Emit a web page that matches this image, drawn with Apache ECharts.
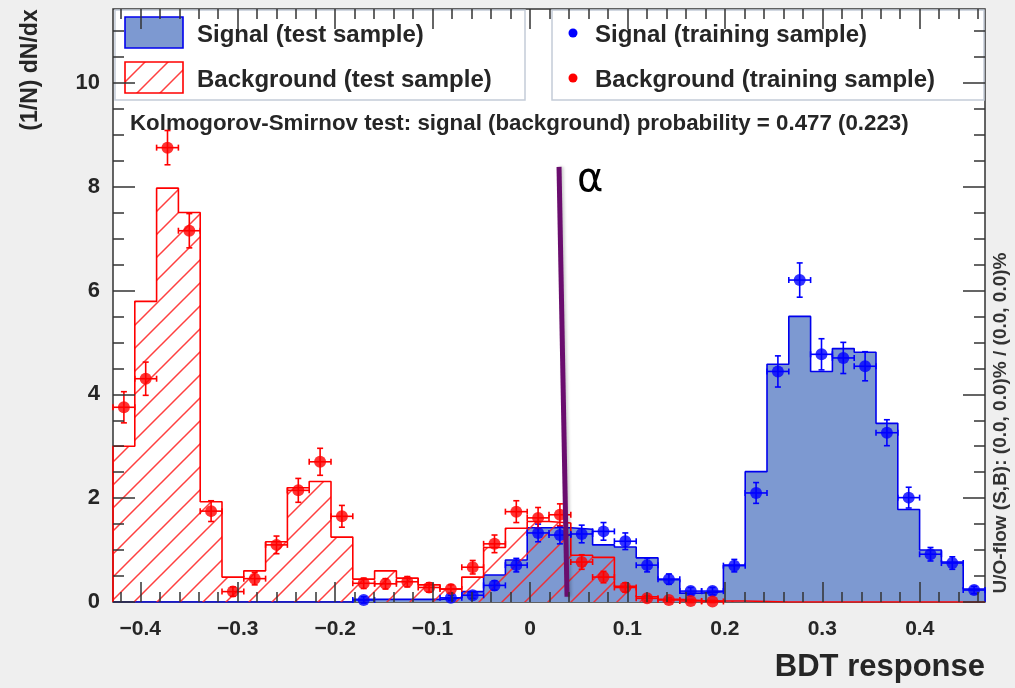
<!DOCTYPE html>
<html>
<head>
<meta charset="utf-8">
<script src="https://cdn.jsdelivr.net/npm/echarts@6/dist/echarts.min.js"></script>
<style>
  html, body { margin: 0; padding: 0; background: #efefef; }
  #chart { width: 1015px; height: 688px; }
</style>
</head>
<body>
<div id="chart"></div>
<script>
// BDT response distributions, 40 equal bins between binLow and binHigh
const binLow = -0.428;
const binHigh = 0.467;
const nBins = 40;

// Signal (test sample), normalised bin contents
const sigTest = [0, 0, 0, 0, 0, 0, 0, 0, 0, 0,
  0, 0.05, 0.05, 0.05, 0.05, 0.08, 0.2, 0.52, 0.81, 1.43,
  1.43, 1.4, 1.1, 1.06, 0.85, 0.43, 0.17, 0.2, 0.71, 2.51,
  4.58, 5.5, 4.44, 4.88, 4.81, 3.44, 1.78, 1.0, 0.77, 0.25];

// Background (test sample)
const bkgTest = [3.0, 5.79, 7.97, 7.5, 1.93, 0.48, 0.6, 1.16, 2.2, 2.32,
  1.25, 0.44, 0.6, 0.46, 0.33, 0.25, 0.48, 1.05, 1.42, 1.55,
  1.52, 0.9, 0.86, 0.3, 0.1, 0.05, 0.03, 0.02, 0.02, 0.01,
  0, 0, 0, 0, 0, 0, 0, 0, 0, 0];

// Signal (training sample) points and their errors
const sigTrain = [null, null, null, null, null, null, null, null, null, null,
  null, 0.04, null, null, null, 0.08, 0.13, 0.32, 0.71, 1.33,
  1.29, 1.31, 1.36, 1.17, 0.71, 0.44, 0.21, 0.21, 0.7, 2.1,
  4.44, 6.2, 4.77, 4.7, 4.54, 3.26, 2.01, 0.92, 0.75, 0.23];
const sigTrainErr = [0, 0, 0, 0, 0, 0, 0, 0, 0, 0,
  0, 0.06, 0, 0, 0, 0.05, 0.06, 0.09, 0.13, 0.17,
  0.17, 0.17, 0.17, 0.16, 0.13, 0.1, 0.07, 0.07, 0.12, 0.2,
  0.3, 0.33, 0.3, 0.3, 0.28, 0.25, 0.2, 0.13, 0.12, 0.07];

// Background (training sample) points and their errors
const bkgTrain = [3.75, 4.3, 8.75, 7.15, 1.75, 0.2, 0.45, 1.1, 2.15, 2.7,
  1.65, 0.36, 0.35, 0.39, 0.28, 0.25, 0.67, 1.12, 1.74, 1.62,
  1.68, 0.77, 0.48, 0.28, 0.07, 0.04, 0.02, 0.01, null, null,
  null, null, null, null, null, null, null, null, null, null];
const bkgTrainErr = [0.3, 0.32, 0.33, 0.33, 0.2, 0.09, 0.12, 0.17, 0.23, 0.26,
  0.21, 0.1, 0.1, 0.1, 0.09, 0.08, 0.13, 0.17, 0.21, 0.2,
  0.21, 0.14, 0.11, 0.09, 0.05, 0.04, 0.03, 0.02, 0, 0,
  0, 0, 0, 0, 0, 0, 0, 0, 0, 0];

// Axis ticks and labels
const xTickValues = [-0.4, -0.3, -0.2, -0.1, 0, 0.1, 0.2, 0.3, 0.4];
const yTickValues = [0, 2, 4, 6, 8, 10];
const yMax = 11.42;

// Cut marker (slightly tilted line) and its label
const cutLine = [[0.0298, 8.38], [0.038, 0.1]];
const cutLabel = 'α';

const legendTexts = ['Signal (test sample)', 'Background (test sample)',
  'Signal (training sample)', 'Background (training sample)'];
const ksText = 'Kolmogorov-Smirnov test: signal (background) probability = 0.477 (0.223)';
const xTitle = 'BDT response';
const yTitle = '(1/N) dN/dx';
const flowText = 'U/O-flow (S,B): (0.0, 0.0)% / (0.0, 0.0)%';

const binWidth = (binHigh - binLow) / nBins;
const FONT = '"Liberation Sans", Arial, Helvetica, sans-serif';
const TXT = '#262626';

const xMinor = [];
for (let v = -42; v <= 46; v += 2) xMinor.push(v / 100);
const yMinor = [];
for (let v = 0; v <= 11; v += 0.5) yMinor.push(v);

function hatchCanvas() {
  const s = 23;
  const c = document.createElement('canvas');
  c.width = s; c.height = s;
  const g = c.getContext('2d');
  g.strokeStyle = 'rgba(255,30,30,0.85)';
  g.lineWidth = 1.5;
  g.beginPath();
  g.moveTo(-3, s + 3); g.lineTo(s + 3, -3);
  g.moveTo(-3, 3); g.lineTo(3, -3);
  g.moveTo(s - 3, s + 3); g.lineTo(s + 3, s - 3);
  g.stroke();
  return c;
}
const hatch = { image: hatchCanvas(), repeat: 'repeat' };

// outline of a histogram as stepped points at bin edges
function stepData(vals) {
  const pts = [[binLow, 0]];
  vals.forEach((v, i) => pts.push([binLow + i * binWidth, v]));
  pts.push([binHigh, vals[vals.length - 1]]);
  pts.push([binHigh, 0]);
  return pts;
}
function pointData(vals, errs) {
  const out = [];
  vals.forEach((v, i) => {
    if (v !== null) out.push([binLow + (i + 0.5) * binWidth, v, errs[i]]);
  });
  return out;
}

function errorSeries(data, color) {
  return {
    type: 'custom',
    z: 6,
    clip: false,
    silent: true,
    data: data,
    renderItem: function (params, api) {
      const x = api.value(0), y = api.value(1), e = api.value(2);
      const c = api.coord([x, y]);
      const lo = api.coord([x, y - e]);
      const hi = api.coord([x, y + e]);
      const half = api.size([binWidth, 0])[0] / 2;
      const st = { stroke: color, lineWidth: 1.6 };
      const cap = 3;
      return {
        type: 'group',
        children: [
          { type: 'line', shape: { x1: c[0], y1: lo[1], x2: c[0], y2: hi[1] }, style: st },
          { type: 'line', shape: { x1: c[0] - half, y1: c[1], x2: c[0] + half, y2: c[1] }, style: st },
          { type: 'line', shape: { x1: c[0] - cap, y1: lo[1], x2: c[0] + cap, y2: lo[1] }, style: st },
          { type: 'line', shape: { x1: c[0] - cap, y1: hi[1], x2: c[0] + cap, y2: hi[1] }, style: st },
          { type: 'line', shape: { x1: c[0] - half, y1: c[1] - cap, x2: c[0] - half, y2: c[1] + cap }, style: st },
          { type: 'line', shape: { x1: c[0] + half, y1: c[1] - cap, x2: c[0] + half, y2: c[1] + cap }, style: st }
        ]
      };
    }
  };
}

function xAxisDef(pos, ticks, len, labels) {
  return {
    type: 'value', position: pos, min: binLow, max: binHigh, z: 10,
    axisLine: { show: false, onZero: false },
    splitLine: { show: false },
    axisTick: { show: true, inside: true, length: len, customValues: ticks,
      lineStyle: { color: '#333', width: 1.5 } },
    axisLabel: labels ? {
      show: true, customValues: ticks, margin: 17,
      fontFamily: FONT, fontWeight: 'bold', fontSize: 21, color: TXT,
      formatter: v => (v < 0 ? '\u2212' + String(Math.abs(v)) : String(v))
    } : { show: false }
  };
}
function yAxisDef(pos, ticks, len, labels) {
  return {
    type: 'value', position: pos, min: 0, max: yMax, z: 10,
    axisLine: { show: false, onZero: false },
    splitLine: { show: false },
    axisTick: { show: true, inside: true, length: len, customValues: ticks,
      lineStyle: { color: '#333', width: 1.5 } },
    axisLabel: labels ? {
      show: true, customValues: ticks, margin: 13,
      fontFamily: FONT, fontWeight: 'bold', fontSize: 22, color: TXT
    } : { show: false }
  };
}

const chart = echarts.init(document.getElementById('chart'), null, { renderer: 'canvas' });

const legendZ = 5;
chart.setOption({
  animation: false,
  backgroundColor: '#efefef',
  grid: {
    left: 113, right: 30, top: 9, bottom: 86,
    show: true, backgroundColor: '#ffffff', borderColor: '#333', borderWidth: 1.5
  },
  xAxis: [
    xAxisDef('bottom', xTickValues, 20, true),
    xAxisDef('bottom', xMinor, 10, false),
    xAxisDef('top', xTickValues, 20, false),
    xAxisDef('top', xMinor, 10, false)
  ],
  yAxis: [
    yAxisDef('left', yTickValues, 22, true),
    yAxisDef('left', yMinor, 11, false),
    yAxisDef('right', yTickValues, 22, false),
    yAxisDef('right', yMinor, 11, false)
  ],
  series: [
    {
      name: legendTexts[0], type: 'line', step: 'end', z: 2,
      data: stepData(sigTest), symbol: 'none',
      lineStyle: { color: '#0000ee', width: 1.6 },
      areaStyle: { color: '#7d99d1', opacity: 1 }
    },
    {
      name: legendTexts[1], type: 'line', step: 'end', z: 3,
      data: stepData(bkgTest), symbol: 'none',
      lineStyle: { color: '#ff0000', width: 1.6 },
      areaStyle: { color: hatch, opacity: 1 }
    },
    errorSeries(pointData(sigTrain, sigTrainErr), '#0000ff'),
    errorSeries(pointData(bkgTrain, bkgTrainErr), '#ff0000'),
    {
      name: legendTexts[2], type: 'scatter', z: 7, symbolSize: 12,
      data: pointData(sigTrain, sigTrainErr).map(p => [p[0], p[1]]),
      itemStyle: { color: '#0000ff' }
    },
    {
      name: legendTexts[3], type: 'scatter', z: 7, symbolSize: 12,
      data: pointData(bkgTrain, bkgTrainErr).map(p => [p[0], p[1]]),
      itemStyle: { color: '#ff0000' }
    },
    {
      name: 'cut', type: 'line', z: 8, data: cutLine, symbol: 'none',
      lineStyle: { color: '#6a0d6e', width: 5, shadowColor: 'rgba(0,0,0,0.2)', shadowBlur: 3, shadowOffsetX: 2 }
    }
  ],
  graphic: [
    // legend boxes
    { type: 'rect', z: legendZ, shape: { x: 115, y: 10, width: 410, height: 90 },
      style: { fill: '#ffffff', stroke: '#c4ccd8', lineWidth: 1.5 } },
    { type: 'rect', z: legendZ, shape: { x: 552, y: 10, width: 432, height: 90 },
      style: { fill: '#ffffff', stroke: '#c4ccd8', lineWidth: 1.5 } },
    { type: 'rect', z: legendZ + 1, shape: { x: 125, y: 17, width: 58, height: 31 },
      style: { fill: '#7d99d1', stroke: '#0000ee', lineWidth: 1.6 } },
    { type: 'rect', z: legendZ + 1, shape: { x: 125, y: 62, width: 58, height: 31 },
      style: { fill: hatch, stroke: '#ff0000', lineWidth: 1.6 } },
    { type: 'text', z: legendZ + 1, x: 197, y: 35,
      style: { text: legendTexts[0], font: 'bold 24px ' + FONT, fill: TXT, verticalAlign: 'middle' } },
    { type: 'text', z: legendZ + 1, x: 197, y: 80,
      style: { text: legendTexts[1], font: 'bold 24px ' + FONT, fill: TXT, verticalAlign: 'middle' } },
    { type: 'circle', z: legendZ + 1, shape: { cx: 573, cy: 33, r: 4.5 }, style: { fill: '#0000ff' } },
    { type: 'circle', z: legendZ + 1, shape: { cx: 573, cy: 78, r: 4.5 }, style: { fill: '#ff0000' } },
    { type: 'text', z: legendZ + 1, x: 595, y: 35,
      style: { text: legendTexts[2], font: 'bold 24px ' + FONT, fill: TXT, verticalAlign: 'middle' } },
    { type: 'text', z: legendZ + 1, x: 595, y: 80,
      style: { text: legendTexts[3], font: 'bold 24px ' + FONT, fill: TXT, verticalAlign: 'middle' } },
    // KS test result
    { type: 'text', z: legendZ + 1, x: 130, y: 124,
      style: { text: ksText, font: 'bold 22.3px ' + FONT, fill: TXT, verticalAlign: 'middle' } },
    // cut label
    { type: 'text', z: legendZ + 1, x: 577, y: 181,
      style: { text: cutLabel, font: '40px "DejaVu Sans", sans-serif', fill: '#000', verticalAlign: 'middle' } },
    // axis titles
    { type: 'text', z: legendZ + 1, x: 985, y: 667,
      style: { text: xTitle, font: 'bold 31px ' + FONT, fill: TXT, align: 'right', verticalAlign: 'middle' } },
    { type: 'text', z: legendZ + 1, x: 31, y: 70, rotation: Math.PI / 2,
      style: { text: yTitle, font: 'bold 23px ' + FONT, fill: TXT, align: 'center', verticalAlign: 'middle' } },
    { type: 'text', z: legendZ + 1, x: 1001, y: 423, rotation: Math.PI / 2,
      style: { text: flowText, font: 'bold 19px ' + FONT, fill: '#333', align: 'center', verticalAlign: 'middle' } }
  ]
});
</script>
</body>
</html>
